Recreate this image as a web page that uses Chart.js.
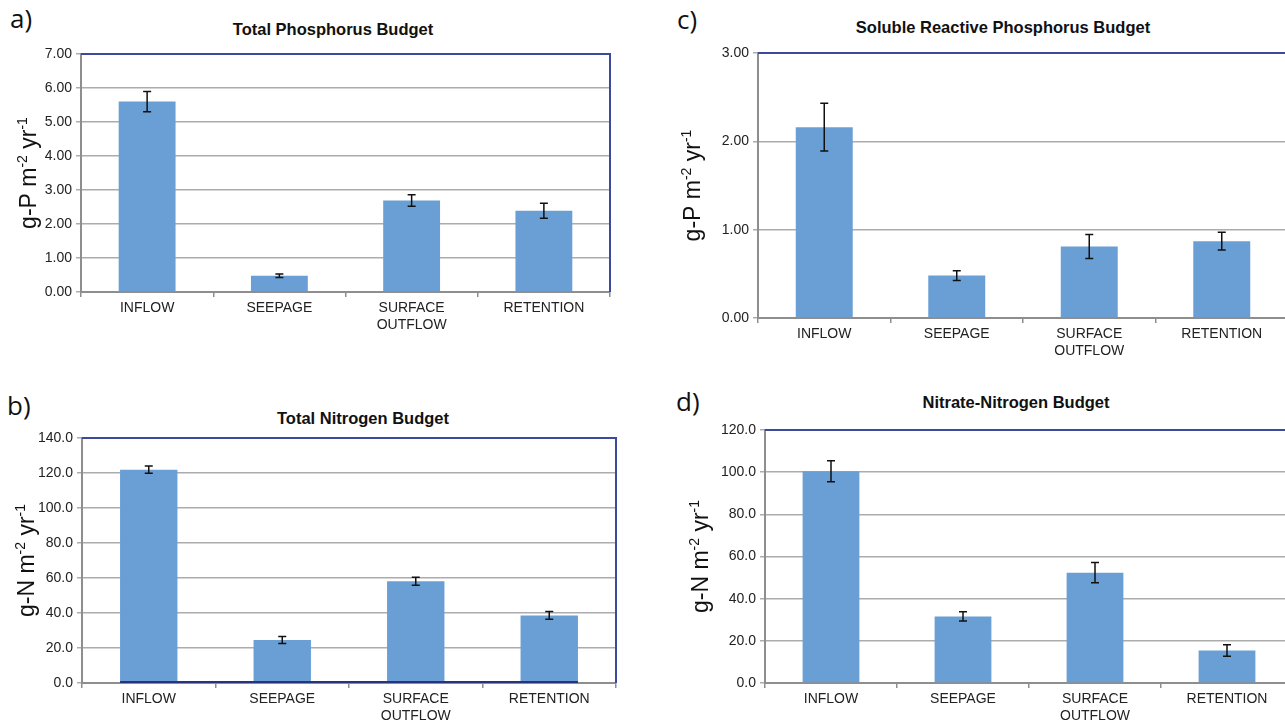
<!DOCTYPE html>
<html>
<head>
<meta charset="utf-8">
<script src="https://cdn.jsdelivr.net/npm/chart.js@4"></script>
<style>
  html, body { margin: 0; padding: 0; background: #fff; overflow: hidden; width: 1285px; height: 722px; }
  canvas { position: absolute; }
  .panel { position: absolute; font-family: "Open Sans", sans-serif; font-size: 26px; color: #111; line-height: 1; }
  .title { position: absolute; font-family: "Liberation Sans", Arial, sans-serif; font-weight: bold; font-size: 16.5px; color: #111; transform: translateX(-50%); white-space: nowrap; line-height: 1; }
</style>
</head>
<body>
<div class="panel" style="left:10px;top:5px">a)</div>
<div class="panel" style="left:677px;top:6px">c)</div>
<div class="panel" style="left:7px;top:392px">b)</div>
<div class="panel" style="left:676px;top:388px">d)</div>
<div class="title" style="left:333px;top:21px">Total Phosphorus Budget</div>
<div class="title" style="left:1003px;top:19px">Soluble Reactive Phosphorus Budget</div>
<div class="title" style="left:363px;top:410px">Total Nitrogen Budget</div>
<div class="title" style="left:1016px;top:394px">Nitrate-Nitrogen Budget</div>

<canvas id="chartA" width="640" height="330" style="left:0;top:0"></canvas>
<canvas id="chartB" width="640" height="352" style="left:0;top:370px"></canvas>
<canvas id="chartC" width="660" height="370" style="left:640px;top:0"></canvas>
<canvas id="chartD" width="660" height="352" style="left:640px;top:370px"></canvas>

<script>
// categories shared by all four panels
const categories = ["INFLOW", "SEEPAGE", ["SURFACE", "OUTFLOW"], "RETENTION"];

// a) Total phosphorus (g-P m-2 yr-1)
const tpValues = [5.6, 0.48, 2.69, 2.39];
const tpErrors = [0.3, 0.05, 0.17, 0.22];

// b) Total nitrogen (g-N m-2 yr-1)
const tnValues = [121.9, 24.6, 58.2, 38.6];
const tnErrors = [2.1, 2.0, 2.3, 2.2];

// c) Soluble reactive phosphorus (g-P m-2 yr-1)
const srpValues = [2.16, 0.48, 0.81, 0.87];
const srpErrors = [0.27, 0.055, 0.135, 0.1];

// d) Nitrate-nitrogen (g-N m-2 yr-1)
const no3Values = [100.4, 31.6, 52.3, 15.4];
const no3Errors = [5.0, 2.2, 4.8, 2.7];

const BAR = "#6a9fd5";
const NAVY = "#3b4a9c";
const AXIS = "#8e8e8e";
const GRID = "#acacac";
const FONT = "'Liberation Sans', Arial, sans-serif";

// error bars, navy top/right frame, y title with real superscripts
const extras = {
  id: "extras",
  afterDatasetsDraw(chart, args, opts) {
    const ctx = chart.ctx;
    const y = chart.scales.y;
    const meta = chart.getDatasetMeta(0);
    const vals = chart.data.datasets[0].data;
    const a = chart.chartArea;
    ctx.save();
    if (opts.baseLine) {
      const first = meta.data[0], last = meta.data[meta.data.length - 1];
      ctx.strokeStyle = "#27337a";
      ctx.lineWidth = 2;
      ctx.beginPath();
      ctx.moveTo(first.x - first.width / 2, y.getPixelForValue(0) - 1);
      ctx.lineTo(last.x + last.width / 2, y.getPixelForValue(0) - 1);
      ctx.stroke();
    }
    ctx.strokeStyle = "#111";
    ctx.lineWidth = 1.5;
    meta.data.forEach((bar, i) => {
      const e = opts.errors[i];
      const hi = y.getPixelForValue(vals[i] + e);
      const lo = y.getPixelForValue(vals[i] - e);
      ctx.beginPath();
      ctx.moveTo(bar.x, hi); ctx.lineTo(bar.x, lo);
      ctx.moveTo(bar.x - 4, hi); ctx.lineTo(bar.x + 4, hi);
      ctx.moveTo(bar.x - 4, lo); ctx.lineTo(bar.x + 4, lo);
      ctx.stroke();
    });
    ctx.strokeStyle = NAVY;
    ctx.lineWidth = 2;
    ctx.beginPath();
    ctx.moveTo(a.left, a.top);
    ctx.lineTo(a.right, a.top);
    ctx.lineTo(a.right, a.bottom);
    ctx.stroke();

    // rotated axis title: parts of [text, superscript?]
    const parts = opts.ytitle;
    const big = "23px " + FONT, small = "14px " + FONT;
    let total = 0;
    parts.forEach(([t, sup]) => { ctx.font = sup ? small : big; total += ctx.measureText(t).width; });
    ctx.translate(opts.titleX, (a.top + a.bottom) / 2);
    ctx.rotate(-Math.PI / 2);
    ctx.fillStyle = "#111";
    ctx.textBaseline = "alphabetic";
    let x = -total / 2;
    parts.forEach(([t, sup]) => {
      ctx.font = sup ? small : big;
      ctx.fillText(t, x, sup ? -1 : 8);
      x += ctx.measureText(t).width;
    });
    ctx.restore();
  }
};

function makeChart(id, values, errors, cfg) {
  return new Chart(document.getElementById(id), {
    type: "bar",
    data: {
      labels: categories,
      datasets: [{ data: values, backgroundColor: BAR, borderWidth: 0,
        barPercentage: 0.43, categoryPercentage: 1 }]
    },
    options: {
      responsive: false,
      animation: false,
      layout: { padding: { top: cfg.top, right: cfg.right, bottom: 0, left: 0 } },
      plugins: {
        legend: { display: false },
        tooltip: { enabled: false },
        extras: { errors: errors, baseLine: !!cfg.baseLine, ytitle: cfg.ytitle, titleX: cfg.titleX }
      },
      scales: {
        x: {
          afterFit: (s) => { s.height = cfg.xh; },
          grid: { display: true, drawOnChartArea: false, drawTicks: true, tickLength: 5, color: AXIS, lineWidth: 1.5 },
          border: { color: AXIS, width: 2 },
          ticks: { color: "#222", font: { family: FONT, size: 14 }, padding: 3, maxRotation: 0, autoSkip: false }
        },
        y: {
          min: 0,
          max: cfg.max,
          afterFit: (s) => { s.width = cfg.yw; },
          grid: { color: GRID, lineWidth: 1.5, tickLength: 5, drawTicks: true },
          border: { color: AXIS, width: 2 },
          ticks: { stepSize: cfg.step, color: "#222", font: { family: FONT, size: 14 }, padding: 4,
            callback: (v) => v.toFixed(cfg.dec) }
        }
      }
    },
    plugins: [extras]
  });
}

const titleP = [["g-P m", false], ["-2", true], [" yr", false], ["-1", true]];
const titleN = [["g-N m", false], ["-2", true], [" yr", false], ["-1", true]];

makeChart("chartA", tpValues, tpErrors,
  { top: 54, right: 30, yw: 81, xh: 38, max: 7, step: 1, dec: 2, ytitle: titleP, titleX: 28 });
makeChart("chartB", tnValues, tnErrors,
  { top: 68, right: 24, yw: 82, xh: 39, max: 140, step: 20, dec: 1, ytitle: titleN, titleX: 26, baseLine: true });
makeChart("chartC", srpValues, srpErrors,
  { top: 53, right: 12, yw: 118, xh: 52, max: 3, step: 1, dec: 2, ytitle: titleP, titleX: 52 });
makeChart("chartD", no3Values, no3Errors,
  { top: 60, right: 7, yw: 125, xh: 39, max: 120, step: 20, dec: 1, ytitle: titleN, titleX: 60 });
</script>
</body>
</html>
